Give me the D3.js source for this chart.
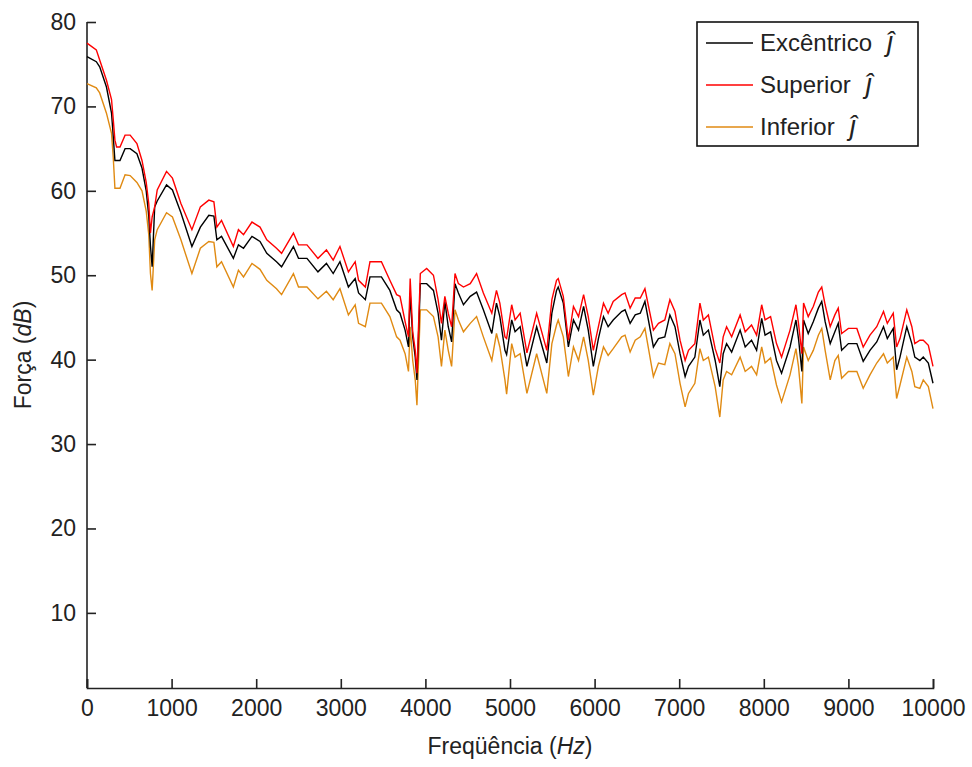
<!DOCTYPE html>
<html lang="pt">
<head>
<meta charset="UTF-8">
<title>Força x Freqüência</title>
<script src="https://d3js.org/d3.v7.min.js"></script>
<style>
    body { margin: 0; background: #fff; }
    text { font-family: "Liberation Sans", Arial, sans-serif; fill: #222; }
    .axis path, .axis line { stroke: #222; stroke-width: 1.6px; }
    .series { fill: none; stroke-width: 1.4px; stroke-linejoin: miter; }
</style>
</head>
<body>
<svg id="chart" width="972" height="767"></svg>
<script>
// frequency (Hz) and force (dB)
const freqHz = [0, 110, 150, 230, 290, 310, 330, 350, 390, 450, 510, 590, 650, 700, 730, 750, 770, 800, 830, 940,
    1010, 1110, 1240, 1340, 1440, 1500, 1535, 1590, 1730, 1790, 1850, 1950, 2045, 2125, 2240, 2300, 2440, 2500, 2600, 2730,
    2830, 2910, 2990, 3090, 3170, 3210, 3290, 3345, 3480, 3580, 3660, 3700, 3760, 3800, 3820, 3850, 3880, 3900, 3940, 4015,
    4095, 4150, 4190, 4230, 4270, 4310, 4350, 4390, 4450, 4530, 4605, 4685, 4785, 4840, 4880, 4940, 4960, 5020, 5060, 5120,
    5200, 5315, 5435, 5495, 5550, 5570, 5630, 5690, 5750, 5810, 5870, 5925, 5985, 6045, 6105, 6160, 6220, 6320, 6360, 6420,
    6480, 6540, 6595, 6695, 6755, 6830, 6890, 6950, 7010, 7070, 7110, 7185, 7245, 7285, 7345, 7425, 7480, 7520, 7560, 7620,
    7720, 7780, 7855, 7915, 7975, 8015, 8080, 8150, 8210, 8310, 8380, 8410, 8450, 8470, 8525, 8585, 8645, 8685, 8725, 8785,
    8840, 8880, 8920, 9000, 9100, 9175, 9255, 9335, 9415, 9460, 9530, 9570, 9610, 9690, 9750, 9785, 9845, 9885, 9945, 10000];

const excentrico = [75.9, 75.3, 74.7, 72.3, 69.2, 66.5, 63.6, 63.6, 63.6, 65.0, 65.0, 64.4, 62.7, 60.0, 57.0, 53.5, 51.0, 58.1, 58.8, 60.7,
    60.1, 57.4, 53.4, 55.7, 57.1, 57.0, 54.2, 54.6, 52.0, 53.6, 53.2, 54.6, 54.0, 52.6, 51.6, 51.0, 53.4, 52.0, 52.0, 50.4,
    51.4, 50.2, 51.6, 48.6, 49.6, 47.9, 47.1, 49.8, 49.8, 48.2, 45.9, 45.5, 43.5, 41.5, 47.9, 42.7, 40.3, 37.6, 49.0, 49.0,
    48.2, 45.5, 42.3, 46.9, 43.9, 42.1, 49.0, 47.9, 46.5, 47.5, 48.0, 45.9, 43.1, 46.7, 45.1, 41.1, 40.6, 44.7, 43.3, 43.9,
    39.2, 43.9, 39.6, 45.5, 48.2, 48.6, 46.7, 41.5, 44.7, 43.5, 46.3, 43.5, 39.2, 42.5, 45.1, 43.9, 44.7, 45.7, 45.9, 44.3,
    45.3, 45.5, 46.9, 41.5, 42.5, 42.7, 45.3, 43.9, 40.7, 38.0, 39.2, 40.3, 44.7, 42.9, 43.5, 39.9, 36.8, 40.7, 41.9, 40.9,
    43.5, 41.5, 42.3, 41.1, 44.9, 42.9, 43.3, 39.9, 38.4, 41.5, 44.7, 42.5, 38.6, 44.7, 43.1, 44.5, 46.1, 46.9, 44.5, 41.9,
    43.3, 44.3, 41.1, 41.9, 41.9, 39.8, 41.1, 42.1, 43.9, 42.5, 43.7, 38.8, 40.3, 43.9, 41.9, 40.3, 39.9, 40.3, 39.6, 37.2];

const superior = [77.5, 76.7, 75.5, 73.1, 70.8, 68.5, 66.0, 65.2, 65.2, 66.6, 66.6, 65.6, 63.6, 61.0, 58.5, 55.0, 56.9, 58.1, 60.1, 62.3,
    61.5, 58.5, 55.4, 58.1, 58.9, 58.7, 55.7, 56.5, 53.4, 55.4, 54.8, 56.3, 55.7, 54.2, 53.2, 52.6, 55.0, 53.6, 53.6, 52.0,
    53.0, 51.8, 53.4, 50.4, 51.6, 49.4, 48.6, 51.6, 51.6, 49.4, 47.7, 47.5, 44.5, 42.7, 49.6, 43.3, 41.1, 38.4, 50.2, 50.8,
    50.0, 47.1, 44.3, 47.5, 45.5, 43.9, 50.2, 49.0, 48.6, 49.0, 50.2, 47.9, 45.5, 48.2, 46.7, 42.7, 42.5, 46.5, 44.7, 45.5,
    40.8, 45.5, 41.1, 47.1, 49.4, 49.6, 47.5, 42.3, 46.3, 45.1, 47.7, 45.1, 41.1, 43.9, 46.7, 45.5, 46.9, 47.7, 47.9, 46.1,
    47.3, 47.3, 48.4, 43.5, 44.3, 44.7, 47.1, 45.7, 42.3, 39.9, 41.1, 41.9, 46.7, 44.7, 45.3, 41.3, 39.6, 42.7, 43.9, 42.7,
    45.3, 43.3, 44.1, 42.9, 46.5, 44.7, 45.1, 41.9, 40.3, 43.5, 46.5, 44.3, 40.7, 46.7, 45.1, 46.3, 48.0, 48.6, 46.5, 43.9,
    45.3, 46.1, 43.1, 43.7, 43.7, 41.5, 42.9, 43.9, 45.7, 44.3, 45.5, 41.5, 42.5, 45.9, 43.9, 41.9, 42.3, 42.3, 41.7, 39.2];

const inferior = [72.7, 72.2, 71.6, 69.2, 66.8, 64.0, 60.3, 60.3, 60.3, 61.9, 61.8, 61.0, 60.0, 57.6, 54.8, 50.2, 48.2, 54.2, 55.4, 57.4,
    56.9, 54.2, 50.2, 53.2, 54.0, 53.9, 51.0, 51.6, 48.6, 50.6, 49.8, 51.4, 50.7, 49.4, 48.4, 47.7, 50.2, 48.6, 48.6, 47.2,
    48.1, 47.1, 48.4, 45.3, 46.5, 44.3, 43.9, 46.7, 46.7, 45.1, 42.7, 42.3, 40.7, 38.6, 43.9, 39.9, 37.6, 34.6, 45.9, 45.9,
    45.1, 42.7, 39.2, 43.5, 41.1, 39.2, 45.9, 44.7, 43.3, 44.3, 45.1, 42.7, 39.9, 43.1, 41.5, 37.6, 35.9, 41.9, 40.3, 40.7,
    36.0, 40.7, 36.0, 41.9, 44.1, 44.7, 42.7, 38.0, 41.5, 39.9, 42.7, 39.9, 35.8, 39.2, 41.5, 40.5, 41.3, 42.7, 42.9, 40.9,
    42.3, 42.7, 43.7, 38.0, 39.6, 39.4, 41.9, 40.7, 37.2, 34.4, 36.0, 37.2, 41.3, 39.9, 40.3, 36.8, 33.2, 37.6, 38.6, 38.2,
    40.3, 38.6, 39.2, 38.2, 41.5, 39.6, 40.2, 37.0, 35.0, 38.2, 41.3, 39.2, 34.8, 41.5, 39.9, 41.1, 42.9, 43.7, 41.1, 37.6,
    39.9, 40.5, 37.8, 38.6, 38.6, 36.6, 38.2, 39.6, 40.7, 39.6, 40.3, 35.4, 37.0, 40.3, 38.6, 36.8, 36.6, 37.6, 36.8, 34.2];

const xTicks = [0, 1000, 2000, 3000, 4000, 5000, 6000, 7000, 8000, 9000, 10000];
const yTicks = [10, 20, 30, 40, 50, 60, 70, 80];
const seriesNames = ['Excêntrico', 'Superior', 'Inferior'];
const seriesColors = ['#000000', '#ff0000', '#e08a12'];

const svg = d3.select('#chart');
const plot = { left: 87, right: 933, top: 22, bottom: 688 };

const x = d3.scaleLinear().domain([0, 10000]).range([plot.left, plot.right]);
const y = d3.scaleLinear().domain([1.1, 80]).range([plot.bottom, plot.top]);

// axes (ticks point inward, matlab style)
const xAxis = d3.axisBottom(x).tickValues(xTicks).tickSize(-9).tickPadding(12).tickSizeOuter(-9).tickFormat(d3.format('d'));
const yAxis = d3.axisLeft(y).tickValues(yTicks).tickSize(-9).tickPadding(11).tickSizeOuter(0);

svg.append('g').attr('class', 'x axis')
    .attr('transform', `translate(0,${plot.bottom})`)
    .call(xAxis)
    .call(g => g.selectAll('text').attr('font-size', 23).attr('fill', '#222'));

svg.append('g').attr('class', 'y axis')
    .attr('transform', `translate(${plot.left},0)`)
    .call(yAxis)
    .call(g => g.select('.domain').attr('d', `M0,${plot.top}V${plot.bottom}`))
    .call(g => g.selectAll('text').attr('font-size', 23).attr('fill', '#222'));

// series
const lines = [excentrico, superior, inferior];
const line = d3.line().x((d, i) => x(freqHz[i])).y(d => y(d));

// draw orange first, then black, then red on top like the reference
[2, 0, 1].forEach(k => {
    svg.append('path')
        .datum(lines[k])
        .attr('class', 'series')
        .attr('stroke', seriesColors[k])
        .attr('d', line);
});

// axis titles
const xt = svg.append('text').attr('x', (plot.left + plot.right) / 2).attr('y', 754)
    .attr('text-anchor', 'middle').attr('font-size', 23);
xt.append('tspan').text('Freqüência (');
xt.append('tspan').attr('font-style', 'italic').text('Hz');
xt.append('tspan').text(')');

const yt = svg.append('text').attr('transform', `translate(31,${(plot.top + plot.bottom) / 2}) rotate(-90)`)
    .attr('text-anchor', 'middle').attr('font-size', 23);
yt.append('tspan').text('Força (');
yt.append('tspan').attr('font-style', 'italic').text('dB');
yt.append('tspan').text(')');

// legend
const legend = svg.append('g').attr('transform', 'translate(697,22)');
legend.append('rect').attr('width', 221).attr('height', 124)
    .attr('fill', '#fff').attr('stroke', '#111').attr('stroke-width', 1.6);

seriesNames.forEach((name, i) => {
    const row = legend.append('g').attr('transform', `translate(0,${21 + i * 42})`);
    row.append('line').attr('x1', 9).attr('x2', 56).attr('y1', 0).attr('y2', 0)
        .attr('stroke', seriesColors[i]).attr('stroke-width', 1.4);
    const t = row.append('text').attr('x', 63).attr('y', 8).attr('font-size', 24).text(name);
    const w = t.node().getComputedTextLength();
    row.append('text').attr('x', 63 + w + 15).attr('y', 8)
        .attr('font-family', '"DejaVu Serif", serif').attr('font-style', 'italic')
        .attr('font-size', 27).text('ĵ');
});
</script>
</body>
</html>
